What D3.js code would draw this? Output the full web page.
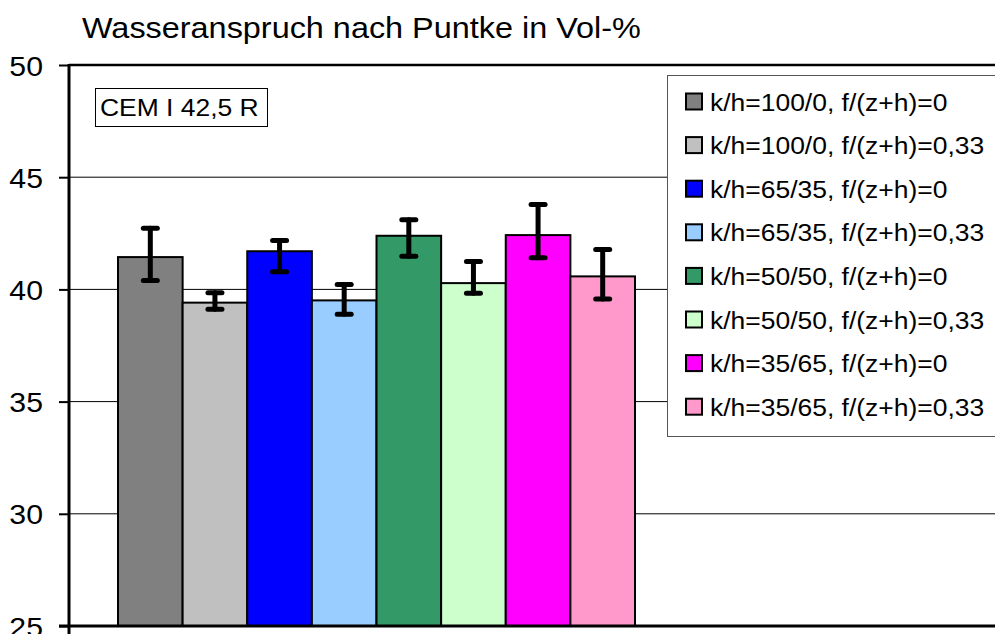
<!DOCTYPE html>
<html>
<head>
	<title>Wasseranspruch nach Puntke</title>
	<script src="https://d3js.org/d3.v7.min.js"></script>
	<style>
		body { margin: 0; background: #fff; }
		text { font-family: Arial, "Liberation Sans", sans-serif; fill: #000; }
	</style>
</head>
<body>
<svg width="995" height="634"></svg>

<script type="text/javascript">
// data
var series = [
	'k/h=100/0, f/(z+h)=0',
	'k/h=100/0, f/(z+h)=0,33',
	'k/h=65/35, f/(z+h)=0',
	'k/h=65/35, f/(z+h)=0,33',
	'k/h=50/50, f/(z+h)=0',
	'k/h=50/50, f/(z+h)=0,33',
	'k/h=35/65, f/(z+h)=0',
	'k/h=35/65, f/(z+h)=0,33'
];
var values  = [41.44, 39.41, 41.70, 39.51, 42.39, 40.28, 42.42, 40.58];
var errHigh = [42.73, 39.85, 42.18, 40.22, 43.10, 41.24, 43.78, 41.78];
var errLow  = [40.40, 39.12, 40.79, 38.89, 41.48, 39.83, 41.41, 39.57];
var colors  = ['#808080', '#c0c0c0', '#0000ff', '#99ccff', '#339966', '#ccffcc', '#ff00ff', '#ff99cc'];
var yTicks  = [25, 30, 35, 40, 45, 50];
var title = 'Wasseranspruch nach Puntke in Vol-%';
var label = 'CEM I 42,5 R';

var svg = d3.select('svg');
var plotLeft = 69, plotTop = 65, plotBottom = 626, plotRight = 1000;
var sx = 1.08; // the reference text is a little wider than plain Arial

var y = d3.scaleLinear().domain([25, 50]).range([plotBottom, plotTop]);
var x = d3.scaleBand().domain(series).range([118, 635]);

function stretchedText(g, px, py, size, str, anchor) {
	return g.append('text')
		.attr('transform', 'translate(' + px + ',' + py + ') scale(' + sx + ',1)')
		.attr('text-anchor', anchor || 'start')
		.style('font-size', size + 'px')
		.text(str);
}

// grid lines
svg.append('g')
	.selectAll('line')
	.data(yTicks.filter(function(d) { return d > 25 && d < 50; }))
	.enter()
	.append('line')
	.attr('x1', plotLeft).attr('x2', plotRight)
	.attr('y1', function(d) { return y(d); })
	.attr('y2', function(d) { return y(d); })
	.attr('stroke', '#000')
	.attr('stroke-width', 1);

// top border
svg.append('line')
	.attr('x1', plotLeft).attr('x2', plotRight)
	.attr('y1', y(50)).attr('y2', y(50))
	.attr('stroke', '#000').attr('stroke-width', 2.5);

// bars
svg.append('g')
	.selectAll('rect')
	.data(values)
	.enter()
	.append('rect')
	.attr('x', function(d, i) { return x(series[i]); })
	.attr('y', function(d) { return y(d); })
	.attr('width', x.bandwidth())
	.attr('height', function(d) { return y(25) - y(d); })
	.attr('fill', function(d, i) { return colors[i]; })
	.attr('stroke', '#000')
	.attr('stroke-width', 2);

// error bars
var err = svg.append('g')
	.attr('stroke', '#000')
	.attr('stroke-width', 5)
	.attr('stroke-linecap', 'round');

series.forEach(function(s, i) {
	var cx = x(s) + x.bandwidth() / 2;
	err.append('line')
		.attr('x1', cx).attr('x2', cx)
		.attr('y1', y(errHigh[i])).attr('y2', y(errLow[i]));
	err.append('line')
		.attr('x1', cx - 7).attr('x2', cx + 7)
		.attr('y1', y(errHigh[i])).attr('y2', y(errHigh[i]));
	err.append('line')
		.attr('x1', cx - 7).attr('x2', cx + 7)
		.attr('y1', y(errLow[i])).attr('y2', y(errLow[i]));
});

// y axis (ticks from the scale, labels drawn stretched)
var yAxis = d3.axisLeft(y)
	.tickValues(yTicks)
	.tickSize(10)
	.tickFormat('');

var ax = svg.append('g')
	.attr('transform', 'translate(' + plotLeft + ',0)')
	.call(yAxis);
ax.select('.domain').remove();
ax.selectAll('.tick line').attr('stroke', '#000').attr('stroke-width', 2);
ax.selectAll('.tick').each(function(d) {
	stretchedText(d3.select(this), -26, 10, 28, d, 'end');
});

svg.append('line')
	.attr('x1', plotLeft).attr('x2', plotLeft)
	.attr('y1', y(50) - 1).attr('y2', 634)
	.attr('stroke', '#000').attr('stroke-width', 3);

// x axis line
svg.append('line')
	.attr('x1', plotLeft - 10).attr('x2', plotRight)
	.attr('y1', y(25)).attr('y2', y(25))
	.attr('stroke', '#000').attr('stroke-width', 3);

// title
stretchedText(svg, 82, 38, 30, title);

// label box
svg.append('rect')
	.attr('x', 95.5).attr('y', 88.5)
	.attr('width', 172).attr('height', 38)
	.attr('fill', '#fff')
	.attr('stroke', '#000')
	.attr('stroke-width', 1);
stretchedText(svg, 100, 116, 24.5, label);

// legend
var legend = svg.append('g');
legend.append('rect')
	.attr('x', 667.5).attr('y', 75.5)
	.attr('width', 340).attr('height', 361)
	.attr('fill', '#fff')
	.attr('stroke', '#555')
	.attr('stroke-width', 1);

var items = legend.selectAll('g.item')
	.data(series)
	.enter()
	.append('g')
	.attr('class', 'item')
	.attr('transform', function(d, i) { return 'translate(0,' + (101.5 + i * 43.6) + ')'; });

items.append('rect')
	.attr('x', 686).attr('y', -8)
	.attr('width', 16).attr('height', 16)
	.attr('fill', function(d, i) { return colors[i]; })
	.attr('stroke', '#000')
	.attr('stroke-width', 2);

items.each(function(d) {
	stretchedText(d3.select(this), 710, 9, 24.5, d);
});
</script>
</body>
</html>
